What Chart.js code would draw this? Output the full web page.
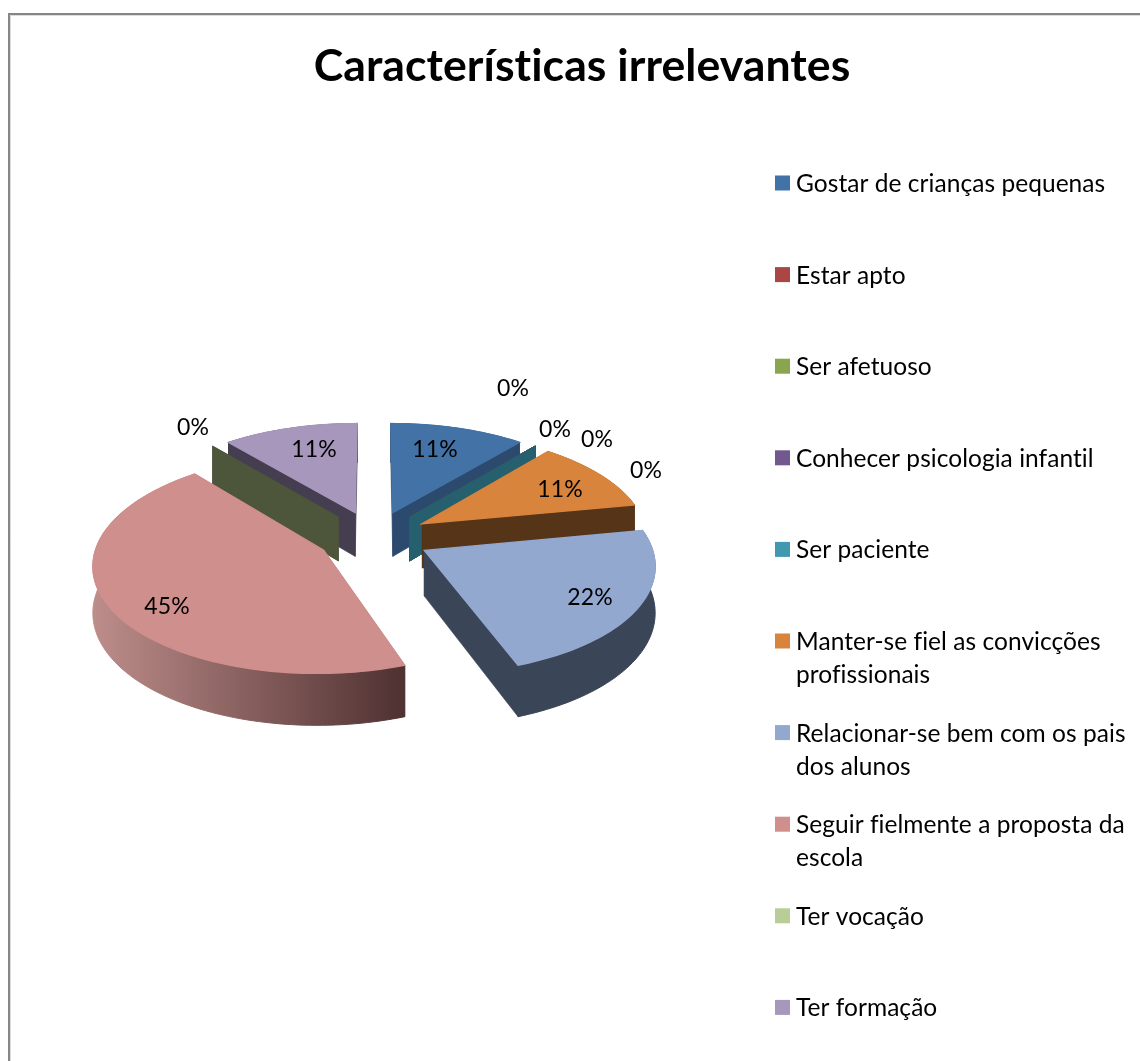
<!DOCTYPE html>
<html><head><meta charset="utf-8">
<style>html,body{margin:0;padding:0;background:#fff;overflow:hidden}canvas{display:block}</style>
<script src="https://cdn.jsdelivr.net/npm/chart.js@4/dist/chart.umd.min.js"></script>
</head><body><canvas id="c" width="1140" height="1061"></canvas>
<script>
const titleText = 'Características irrelevantes';
const categories = ['Gostar de crianças pequenas','Estar apto','Ser afetuoso','Conhecer psicologia infantil','Ser paciente','Manter-se fiel as convicções profissionais','Relacionar-se bem com os pais dos alunos','Seguir fielmente a proposta da escola','Ter vocação','Ter formação'];
const values = [11,0,0,0,0,11,22.49,44.5,0,11.01];
const faceColors = ['#4372a7','#aa4644','#89a54e','#71588f','#4198af','#d9843c','#93a8cf','#cf8f8d','#b9cd96','#a897bc'];
const wallColors = ['#2c4a6e','#6f2d2c','#59693a','#49395e','#26606f','#563418','#3a4557','#8a5f5e','#4d553a','#443e50'];
// label centres on the page
const labelPos = [[435,450],[513,389],[555,430],[597,440],[646,471],[560,490],[590,598],[167,607],[193,428],[314,450]];

// camera used to project the flat pie into 3D
const cam = {cx:374, cy:537, vanishY:-350, dist:1900, depth:45};
const project = (u,v,z=0) => {
  const w = cam.dist/(cam.dist - v);
  return [cam.cx + u*w, cam.vanishY + (cam.cy-cam.vanishY)*w + z*w];
};
const FONT = 'Lato, Carlito, sans-serif';

const pie3d = {
  id:'pie3d',
  beforeDraw(chart){
    const c = chart.ctx;
    c.letterSpacing='0.05px'; // keeps Lato from joining letters into ligatures
    c.save();
    c.fillStyle='#fff'; c.fillRect(0,0,chart.width,chart.height);
    c.strokeStyle='#dcdcdc'; c.lineWidth=1;
    c.beginPath(); c.moveTo(chart.width,15.5); c.lineTo(10.5,15.5); c.lineTo(10.5,chart.height); c.stroke();
    c.strokeStyle='#868686'; c.lineWidth=2;
    c.beginPath(); c.moveTo(chart.width,14); c.lineTo(9,14); c.lineTo(9,chart.height); c.stroke();
    c.restore();
  },
  beforeDatasetsDraw(chart){
    const c = chart.ctx, meta = chart.getDatasetMeta(0);
    const items = meta.data.map((el,i)=>{
      const p = el.getProps(['startAngle','endAngle','outerRadius'],true);
      const mid = (p.startAngle+p.endAngle)/2, off = el.options.offset;
      return {i,s:p.startAngle,e:p.endAngle,r:p.outerRadius,mid,ox:off*Math.cos(mid),oy:off*Math.sin(mid)};
    }).sort((a,b)=>Math.sin(a.mid)-Math.sin(b.mid));
    const poly = (pts,fill,lw=.6)=>{c.beginPath();pts.forEach((q,k)=>k?c.lineTo(q[0],q[1]):c.moveTo(q[0],q[1]));c.closePath();c.fillStyle=fill;c.fill();c.strokeStyle=fill;c.lineWidth=lw;c.stroke();};
    items.forEach(it=>{
      const pt=(a,r,z)=>project(it.ox+r*Math.cos(a),it.oy+r*Math.sin(a),z);
      const apex=project(it.ox,it.oy), apexB=project(it.ox,it.oy,cam.depth);
      const wall=wallColors[it.i];
      // radial walls
      poly([apex,pt(it.s,it.r,0),pt(it.s,it.r,cam.depth),apexB],wall);
      poly([apex,pt(it.e,it.r,0),pt(it.e,it.r,cam.depth),apexB],wall);
      if(it.e-it.s>1e-4){
        const n=Math.ceil((it.e-it.s)*40), top=[], bot=[];
        for(let k=0;k<=n;k++){const a=it.s+(it.e-it.s)*k/n;top.push(pt(a,it.r,0));bot.unshift(pt(a,it.r,cam.depth));}
        let fill=wall;
        if(it.i===7){ // the big slice's rim is shaded from left to right
          const g=c.createLinearGradient(Math.min(...top.map(q=>q[0])),0,Math.max(...top.map(q=>q[0])),0);
          g.addColorStop(0,'#bd8d8a'); g.addColorStop(1,'#4f3131'); fill=g;
        }
        poly(top.concat(bot),fill,1);
        poly([apex].concat(top),faceColors[it.i],1.4);
      }
    });
    return false;
  },
  afterDraw(chart){
    const c=chart.ctx;
    c.save();
    c.fillStyle='#000'; c.textBaseline='middle'; c.textAlign='center';
    c.font='23px '+FONT;
    values.forEach((v,i)=>c.fillText(Math.round(v)+'%',labelPos[i][0],labelPos[i][1]));
    // legend
    c.textAlign='left'; c.font='24.5px '+FONT;
    categories.forEach((t,i)=>{
      const y=183+i*91.6;
      c.fillStyle=faceColors[i]; c.fillRect(775,y-7.5,15,15);
      c.fillStyle='#000';
      let line='',ly=y+1;
      t.split(' ').forEach(w=>{
        const tryL=line?line+' '+w:w;
        if(c.measureText(tryL).width>338&&line){c.fillText(line,796,ly);ly+=33;line=w;} else line=tryL;
      });
      c.fillText(line,796,ly);
    });
    c.restore();
  }
};

new Chart(document.getElementById('c'),{
  type:'pie',
  data:{labels:categories,datasets:[{data:values,backgroundColor:faceColors,offset:57,radius:225,borderWidth:0}]},
  options:{
    responsive:false,animation:false,events:[],
    layout:{padding:{left:24}},
    plugins:{
      legend:{display:false},tooltip:{enabled:false},
      title:{display:true,fullSize:false,text:titleText,color:'#000',font:{family:FONT,size:44.6,weight:'bold'},padding:{top:40,bottom:10},align:'center'}
    }
  },
  plugins:[pie3d]
});
</script></body></html>
